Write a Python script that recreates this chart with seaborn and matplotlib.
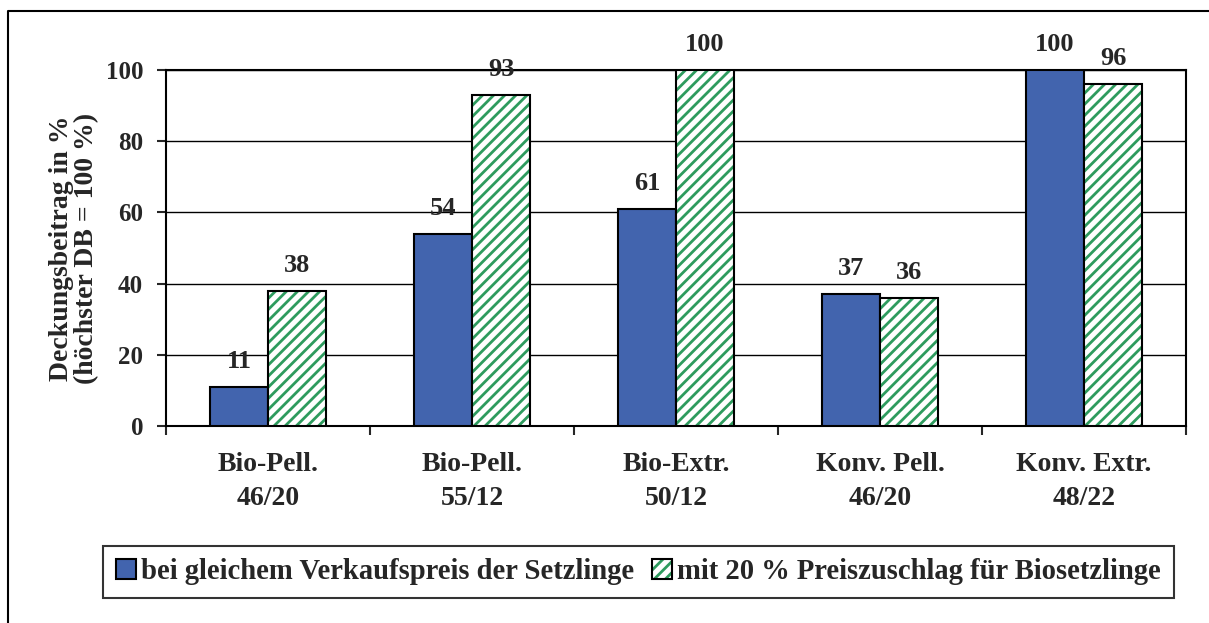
import matplotlib
matplotlib.use("Agg")
import matplotlib.pyplot as plt
from matplotlib.patches import Patch, Rectangle
from matplotlib.lines import Line2D
from matplotlib.ticker import FixedLocator
import seaborn as sns
import pandas as pd

# data
categories = ["Bio-Pell.\n46/20", "Bio-Pell.\n55/12", "Bio-Extr.\n50/12",
              "Konv. Pell.\n46/20", "Konv. Extr.\n48/22"]
series_names = ["bei gleichem Verkaufspreis der Setzlinge",
                "mit 20 % Preiszuschlag für Biosetzlinge"]
same_price = [11, 54, 61, 37, 100]
bio_surcharge = [38, 93, 100, 36, 96]
y_ticks = [0, 20, 40, 60, 80, 100]

BLUE = "#4264AE"
GREEN = "#2E9B5E"
FS_NUM = 18
FS_TXT = 20

sns.set_style("white")
plt.rcParams["font.family"] = ["Liberation Serif", "DejaVu Serif"]
plt.rcParams["font.weight"] = "bold"
plt.rcParams["hatch.linewidth"] = 2.0

df = pd.DataFrame({
    "cat": categories * 2,
    "val": same_price + bio_surcharge,
    "series": [series_names[0]] * len(categories) + [series_names[1]] * len(categories),
})

fig = plt.figure(figsize=(12.09, 6.23), dpi=100)
ax = fig.add_axes([166 / 1209, 1 - 426 / 623, 1020 / 1209, 356 / 623])

sns.barplot(data=df, x="cat", y="val", hue="series", palette=[BLUE, "white"],
            saturation=1, width=0.57, gap=0, edgecolor="black", linewidth=1.5,
            legend=False, ax=ax, zorder=3)

# hatched bars: green stripes, black outline drawn on top
for p in ax.containers[1]:
    p.set_hatch("///")
    p.set_edgecolor(GREEN)
    p.set_linewidth(0)
    ax.add_patch(Rectangle(p.get_xy(), p.get_width(), p.get_height(),
                           fill=False, edgecolor="black", linewidth=1.5, zorder=4))

for cont in ax.containers:
    ax.bar_label(cont, fmt="%d", padding=10, fontsize=19, fontweight="bold")

ax.set_ylim(0, 100)
ax.set_xlim(-0.5, len(categories) - 0.5)
ax.set_yticks(y_ticks)
ax.set_yticklabels([str(t) for t in y_ticks], fontsize=FS_NUM, fontweight="bold")
ax.yaxis.grid(True, color="black", linewidth=1.0, zorder=0)
ax.set_axisbelow(True)

ax.set_xticks(range(len(categories)))
ax.set_xticklabels(categories, fontsize=FS_TXT, fontweight="bold", linespacing=1.45)
ax.xaxis.set_minor_locator(FixedLocator([i - 0.5 for i in range(len(categories) + 1)]))
ax.tick_params(axis="x", which="major", length=0, pad=19)
ax.tick_params(axis="x", which="minor", direction="out", length=6.5, width=1.5, bottom=True)
ax.tick_params(axis="y", direction="out", length=6.5, width=1.5, pad=10, left=True)
ax.set_xlabel("")
ax.set_ylabel("Deckungsbeitrag in %\n(höchster DB = 100 %)", fontsize=FS_TXT,
              fontweight="bold", labelpad=5, linespacing=1.0)

for s in ax.spines.values():
    s.set_color("black")
    s.set_linewidth(1.5)

h1 = Patch(facecolor=BLUE, edgecolor="black", linewidth=1.5)
h2 = (Patch(facecolor="white", edgecolor=GREEN, hatch="///", linewidth=0),
      Patch(fill=False, edgecolor="black", linewidth=1.5))
leg = fig.legend([h1, h2], series_names, loc="center", bbox_to_anchor=(0.528, 0.082),
                 ncol=2, frameon=True, fancybox=False,
                 handlelength=0.7, handleheight=0.7, handletextpad=0.2,
                 columnspacing=0.6, borderpad=0.45,
                 prop={"size": 20.6, "weight": "bold"})
leg.get_frame().set_edgecolor("black")
leg.get_frame().set_linewidth(1.5)

# outer chart frame (only left and top visible in the reference crop)
fig.add_artist(Line2D([8 / 1209, 8 / 1209, 1.0], [0.0, 1 - 11 / 623, 1 - 11 / 623],
                      color="black", linewidth=1.5, transform=fig.transFigure))

fig.savefig("out.png", dpi=100)
